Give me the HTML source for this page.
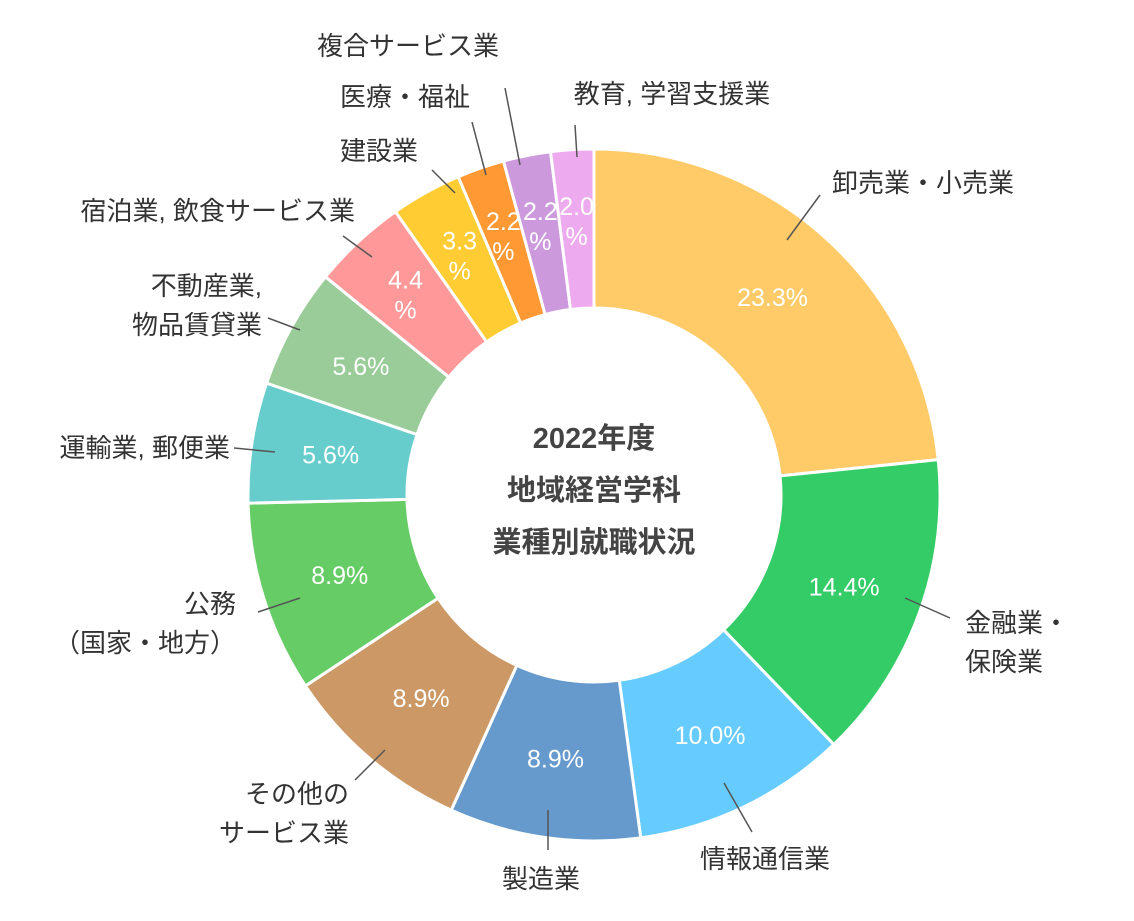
<!DOCTYPE html>
<html><head><meta charset="utf-8"><style>
body{margin:0;background:#fff;}
svg text{font-family:"Liberation Sans","Noto Sans CJK JP",sans-serif;}
</style></head><body>
<svg width="1134" height="916" viewBox="0 0 1134 916" id="chart">
<g id="slices"></g><g id="leaders"></g><g id="labels"></g>
<text x="594" y="448" text-anchor="middle" font-size="29" font-weight="bold" fill="#444">2022年度</text>
<text x="594" y="500" text-anchor="middle" font-size="29" font-weight="bold" fill="#444">地域経営学科</text>
<text x="594" y="552" text-anchor="middle" font-size="29" font-weight="bold" fill="#444">業種別就職状況</text>
</svg>
<script>
const categories=["卸売業・小売業","金融業・保険業","情報通信業","製造業","その他のサービス業","公務（国家・地方）","運輸業, 郵便業","不動産業, 物品賃貸業","宿泊業, 飲食サービス業","建設業","医療・福祉","複合サービス業","教育, 学習支援業"];
const values=[23.3,14.4,10.0,8.9,8.9,8.9,5.6,5.6,4.4,3.3,2.2,2.2,2.0];
const colors=["#FFCB69","#34CC66","#66CCFF","#6699CC","#CC9966","#66CC66","#66CCCC","#99CC99","#FF9999","#FFCC33","#FF9933","#CC99DD","#EEAAEE"];
// layout (not data): outside label lines, anchors, leader endpoints
const layout=[
 {lines:["卸売業・小売業"],x:832,y:192,a:"start",l:[787,240,820,195]},
 {lines:["金融業・","保険業"],x:965,y:632,a:"start",l:[905,598,950,618]},
 {lines:["情報通信業"],x:700,y:868,a:"start",l:[724,783,752,832]},
 {lines:["製造業"],x:541,y:888,a:"middle",l:[548,810,548,850]},
 {lines:["その他の","サービス業"],x:349,y:803,a:"end",l:[385,750,355,780]},
 {lines:["公務","（国家・地方）"],x:236,y:613,a:"end",l:[300,598,258,612]},
 {lines:["運輸業, 郵便業"],x:230,y:457,a:"end",l:[275,452,234,448]},
 {lines:["不動産業,","物品賃貸業"],x:262,y:295,a:"end",l:[300,330,268,318]},
 {lines:["宿泊業, 飲食サービス業"],x:355,y:220,a:"end",l:[372,257,343,236]},
 {lines:["建設業"],x:418,y:160,a:"end",l:[455,193,432,170]},
 {lines:["医療・福祉"],x:470,y:106,a:"end",l:[486,175,472,122]},
 {lines:["複合サービス業"],x:408,y:55,a:"middle",l:[520,165,505,88]},
 {lines:["教育, 学習支援業"],x:672,y:103,a:"middle",l:[577,157,575,125]}
];
const cx=594,cy=495,R=346,r=187,NS="http://www.w3.org/2000/svg";
const total=values.reduce((a,b)=>a+b,0);
const ang=v=>v/total*2*Math.PI;
const pt=(a,rad)=>[cx+rad*Math.sin(a),cy-rad*Math.cos(a)];
const gS=document.getElementById('slices'),gL=document.getElementById('leaders'),gT=document.getElementById('labels');
let a0=0;
values.forEach((v,i)=>{
 const a1=a0+ang(v);const large=(a1-a0)>Math.PI?1:0;
 const p1=pt(a0,R),p2=pt(a1,R),p3=pt(a1,r),p4=pt(a0,r);
 const p=document.createElementNS(NS,'path');
 p.setAttribute('d',`M${p1} A${R},${R} 0 ${large} 1 ${p2} L${p3} A${r},${r} 0 ${large} 0 ${p4}Z`);
 p.setAttribute('fill',colors[i]);p.setAttribute('stroke','#fff');p.setAttribute('stroke-width','3');
 
 
 gS.appendChild(p);
 const m=(a0+a1)/2,pp=pt(m,(R+r)/2+(v<5?10:0));
 const t=document.createElementNS(NS,'text');
 t.setAttribute('text-anchor','middle');t.setAttribute('fill','#fff');t.setAttribute('font-size','25');
 
 
 const s=v.toFixed(1);
 if(v<5){t.innerHTML=`<tspan x="${pp[0]}" y="${pp[1]-4}">${s}</tspan><tspan x="${pp[0]}" y="${pp[1]+26}">%</tspan>`;}
 else{t.setAttribute('x',pp[0]);t.setAttribute('y',pp[1]+9);t.textContent=s+'%';}
 gT.appendChild(t);
 const L=layout[i];
 const ln=document.createElementNS(NS,'line');
 ln.setAttribute('x1',L.l[0]);ln.setAttribute('y1',L.l[1]);ln.setAttribute('x2',L.l[2]);ln.setAttribute('y2',L.l[3]);
 ln.setAttribute('stroke','#555');ln.setAttribute('stroke-width','1.5');
 
 
 gL.appendChild(ln);
 L.lines.forEach((s2,k)=>{
  const tt=document.createElementNS(NS,'text');
  tt.setAttribute('x',L.x);tt.setAttribute('y',L.y+k*39);tt.setAttribute('text-anchor',L.a);
  tt.setAttribute('font-size','26');tt.setAttribute('fill','#333');tt.textContent=s2;
  
  
  gT.appendChild(tt);
 });
 a0=a1;
});
</script>
</body></html>
